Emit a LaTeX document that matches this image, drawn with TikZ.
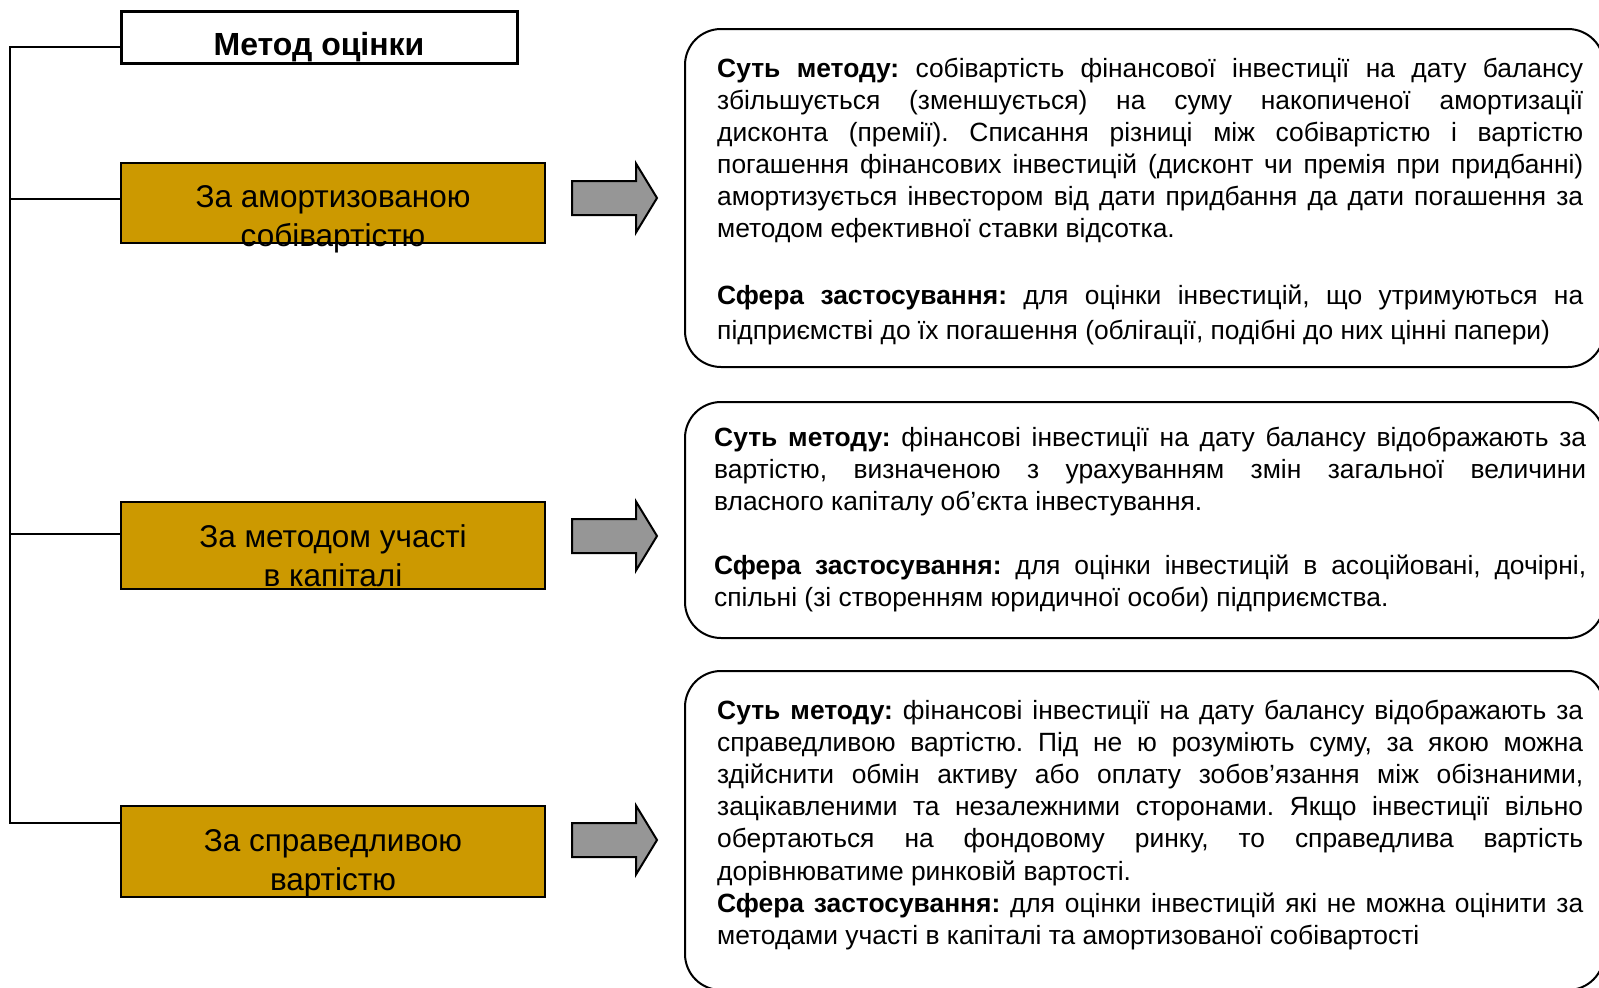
\documentclass[tikz,border=0pt]{standalone}
\usepackage{fontspec}
\setmainfont{Liberation Sans}
\newfontfamily\descfont{Liberation Sans}
\definecolor{goldfill}{RGB}{204,153,0}
\definecolor{arrowgray}{RGB}{150,150,150}
\newcommand{\DescPar}[3]{\parbox[t]{#1}{\descfont\fontsize{26.4}{#2}\selectfont\frenchspacing\tolerance=10000\pretolerance=-1\hyphenpenalty=10000\exhyphenpenalty=10000 #3}}
\begin{document}
\begin{tikzpicture}[x=1pt,y=-1pt,
  conn/.style={line width=2pt},
  titlebox/.style={draw, line width=3pt, fill=white, minimum width=396pt, minimum height=52pt, inner sep=0pt},
  goldbox/.style={draw, line width=2pt, fill=goldfill, minimum width=424pt, inner sep=0pt},
  goldlabel/.style={anchor=base, inner sep=0pt, font=\fontsize{31.5}{39}\selectfont},
  titlelabel/.style={anchor=base, inner sep=0pt, font=\fontsize{32}{37}\selectfont\bfseries},
  bigarrow/.style={draw, line width=2pt, fill=arrowgray, line join=miter},
  infobox/.style={draw, line width=2pt, rounded corners=36pt, inner sep=0pt},
  desc/.style={anchor=base west, inner sep=0pt}
]
\useasboundingbox (0,0) rectangle (1599,988);
\begin{scope}
\clip (0,0) rectangle (1599,988);

% title
\node[titlebox] (title) at (319,37) {};
\node[titlelabel] (titletext) at (319,55) {Метод оцінки};

% gold boxes
\node[goldbox, minimum height=80pt] (g1) at (333,203) {};
\node[goldbox, minimum height=87pt] (g2) at (333,545.5) {};
\node[goldbox, minimum height=91pt] (g3) at (333,851.5) {};
\node[goldlabel] (l1) at (333,207.5) {\parbox[t]{424pt}{\centering За амортизованою\\собівартістю}};
\node[goldlabel] (l2) at (333,547) {\parbox[t]{424pt}{\centering За методом участі\\в капіталі}};
\node[goldlabel] (l3) at (333,851) {\parbox[t]{424pt}{\centering За справедливою\\вартістю}};

% connectors
\coordinate (b0) at (10,47);
\coordinate (b1) at (10,199);
\coordinate (b2) at (10,534);
\coordinate (b3) at (10,823);
\draw[conn] (title.west |- b0) -- (b0) -- (b3) -- (g3.west |- b3);
\draw[conn] (b1) -- (g1.west |- b1);
\draw[conn] (b2) -- (g2.west |- b2);

% block arrows
\foreach \c in {198,536,840} {
  \draw[bigarrow] (572,{\c-17}) -- (636,{\c-17}) -- (636,{\c-34.5}) -- (657,\c) -- (636,{\c+34.5}) -- (636,{\c+17}) -- (572,{\c+17}) -- cycle;
}

% description boxes
\node[infobox, minimum width=919pt, minimum height=338pt] (d1) at (1144.5,198) {};
\node[infobox, minimum width=919pt, minimum height=236pt] (d2) at (1144.5,520) {};
\node[infobox, minimum width=919pt, minimum height=319pt] (d3) at (1144.5,830.5) {};

\node[desc] (t1) at (717,77) {\DescPar{866pt}{32pt}{%
{\bfseries Суть методу:} собівартість фінансової інвестиції на дату балансу\linebreak
збільшується (зменшується) на суму накопиченої амортизації\linebreak
дисконта (премії). Списання різниці між собівартістю і вартістю\linebreak
погашення фінансових інвестицій (дисконт чи премія при придбанні)\linebreak
амортизується інвестором від дати придбання да дати погашення за\linebreak
методом ефективної ставки відсотка.\par\vskip 33pt
{\bfseries Сфера застосування:} для оцінки інвестицій, що утримуються на\linebreak
підприємстві до їх погашення (облігації, подібні до них цінні папери)\setlength{\baselineskip}{34.5pt}\par}};

\node[desc] (t2) at (714,446.5) {\DescPar{872pt}{32pt}{%
{\bfseries Суть методу:} фінансові інвестиції на дату балансу відображають за\linebreak
вартістю, визначеною з урахуванням змін загальної величини\linebreak
власного капіталу об’єкта інвестування.\par\vskip 32pt
{\bfseries Сфера застосування:} для оцінки інвестицій в асоційовані, дочірні,\linebreak
спільні (зі створенням юридичної особи) підприємства.}};

\node[desc] (t3) at (717,719.5) {\DescPar{866pt}{32.1pt}{%
{\bfseries Суть методу:} фінансові інвестиції на дату балансу відображають за\linebreak
справедливою вартістю. Під не ю розуміють суму, за якою можна\linebreak
здійснити обмін активу або оплату зобов’язання між обізнаними,\linebreak
зацікавленими та незалежними сторонами. Якщо інвестиції вільно\linebreak
обертаються на фондовому ринку, то справедлива вартість\linebreak
дорівнюватиме ринковій вартості.\par
{\bfseries Сфера застосування:} для оцінки інвестицій які не можна оцінити за\linebreak
методами участі в капіталі та амортизованої собівартості}};
\end{scope}
\end{tikzpicture}
\end{document}
